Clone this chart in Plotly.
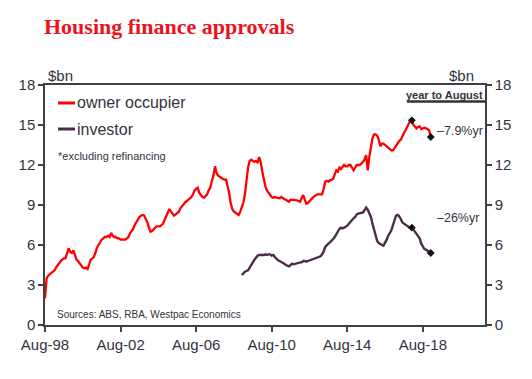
import pandas as pd
import plotly.graph_objects as go

# Monthly series (first observation plotted at the Aug-98 tick)
owner_occupier = [
    2.0, 3.5, 3.7, 3.8, 3.9, 4.0, 4.1, 4.3, 4.5, 4.6, 4.8, 4.9,
    5.0, 5.0, 5.4, 5.75, 5.5, 5.4, 5.6, 5.3, 4.9, 4.8, 4.6, 4.4,
    4.3, 4.25, 4.3, 4.2, 4.5, 4.9, 5.0, 5.1, 5.4, 5.8, 6.0, 6.25,
    6.4, 6.5, 6.6, 6.6, 6.7, 6.6, 6.9, 6.7, 6.6, 6.6, 6.5, 6.5,
    6.4, 6.4, 6.4, 6.4, 6.5, 6.6, 6.9, 7.05, 7.2, 7.5, 7.7, 8.0,
    8.1, 8.2, 8.25, 8.2, 8.0, 7.7, 7.3, 7.0, 7.05, 7.2, 7.3, 7.4,
    7.4, 7.4, 7.5, 7.6, 7.9, 8.2, 8.5, 8.7, 8.5, 8.3, 8.2, 8.3,
    8.4, 8.5, 8.75, 8.9, 9.1, 9.2, 9.3, 9.4, 9.5, 9.6, 9.8, 10.1,
    10.2, 10.3, 9.9, 9.7, 9.6, 9.55, 9.65, 9.8, 10.1, 10.3, 10.8, 11.2,
    11.9, 11.4, 11.2, 11.1, 11.0, 10.95, 10.9, 10.9, 10.4, 9.9, 9.1, 8.7,
    8.5, 8.4, 8.35, 8.25, 8.5, 8.9, 9.2, 9.8, 10.8, 11.8, 12.3, 12.4,
    12.3, 12.25, 12.3, 12.2, 12.6, 12.2, 11.5, 10.9, 10.4, 10.1, 9.9, 9.75,
    9.6, 9.55, 9.6, 9.55, 9.5, 9.5, 9.6, 9.5, 9.45, 9.4, 9.35, 9.25,
    9.4, 9.4, 9.4, 9.4, 9.35, 9.3, 9.25, 9.5, 9.75, 9.4, 9.1, 9.15,
    9.3, 9.45, 9.55, 9.65, 9.75, 9.8, 9.8, 9.8, 9.8, 10.2, 10.75, 10.8,
    10.75, 10.85, 10.9, 10.95, 11.3, 11.6, 11.5, 11.8, 11.7, 11.9, 12.0, 11.9,
    11.9, 12.0, 12.0, 11.8, 11.6, 11.8, 12.0, 12.0, 12.0, 12.1, 12.3, 12.4,
    12.75, 11.6, 12.6, 13.3, 14.0, 14.3, 14.3, 14.2, 13.9, 13.4, 13.6, 13.6,
    13.5, 13.4, 13.3, 13.15, 13.1, 13.1, 13.3, 13.5, 13.7, 13.8, 13.9, 14.2,
    14.4, 14.6, 14.9, 15.1, 15.3, 15.35, 15.0, 14.9, 14.75, 14.85, 14.9, 14.7,
    14.75, 14.8, 14.75, 14.7, 14.6, 14.1,
]

investor = [
    3.75, 3.9, 4.0, 4.05, 4.1, 4.3, 4.55,
    4.7, 4.9, 5.05, 5.2, 5.25, 5.25, 5.2, 5.25, 5.3, 5.25, 5.3, 5.3,
    5.2, 5.25, 5.1, 4.95, 4.85, 4.8, 4.75, 4.65, 4.6, 4.5, 4.45, 4.4,
    4.5, 4.6, 4.55, 4.6, 4.6, 4.65, 4.7, 4.7, 4.8, 4.8, 4.75, 4.8,
    4.85, 4.85, 4.9, 4.95, 5.0, 5.1, 5.1, 5.15, 5.3, 5.5, 5.85, 6.0,
    6.1, 6.2, 6.3, 6.45, 6.6, 6.85, 7.0, 7.2, 7.3, 7.25, 7.3, 7.35,
    7.45, 7.6, 7.75, 7.85, 8.0, 8.1, 8.3, 8.35, 8.4, 8.4, 8.45, 8.6,
    8.8, 8.65, 8.4, 8.1, 7.6, 7.1, 6.6, 6.3, 6.15, 6.05, 6.0, 5.95,
    6.15, 6.4, 6.7, 6.9, 7.1, 7.5, 7.9, 8.2, 8.25, 8.15, 7.95, 7.7,
    7.6, 7.5, 7.4, 7.35, 7.3, 7.3, 7.15, 7.0, 6.85, 6.6, 6.5, 6.1,
    5.85, 5.7, 5.65, 5.55, 5.5, 5.4,
]

dates = pd.date_range("1998-08-01", periods=len(owner_occupier), freq="MS")
inv_dates = dates[len(dates) - len(investor):]

tick_dates = ["1998-08-01", "2002-08-01", "2006-08-01", "2010-08-01", "2014-08-01", "2018-08-01"]
tick_labels = ["Aug-98", "Aug-02", "Aug-06", "Aug-10", "Aug-14", "Aug-18"]
y_ticks = [0, 3, 6, 9, 12, 15, 18]

RED = "#FF0000"
PURPLE = "#4B2D48"
AXIS = "#404040"
TXT = "#333340"

fig = go.Figure()
fig.add_trace(go.Scatter(x=dates, y=owner_occupier, mode="lines",
                         line=dict(color=RED, width=2.3), name="owner occupier"))
fig.add_trace(go.Scatter(x=inv_dates, y=investor, mode="lines",
                         line=dict(color=PURPLE, width=2.4), name="investor"))
# year-to-August markers (year earlier and latest)
fig.add_trace(go.Scatter(x=[dates[-13], dates[-1]], y=[owner_occupier[-13], owner_occupier[-1]],
                         mode="markers", marker=dict(symbol="diamond", size=6, color="#111111")))
fig.add_trace(go.Scatter(x=[inv_dates[-13], inv_dates[-1]], y=[investor[-13], investor[-1]],
                         mode="markers", marker=dict(symbol="diamond", size=6, color="#111111")))
# invisible trace for the right axis
fig.add_trace(go.Scatter(x=[dates[0]], y=[0], yaxis="y2", mode="markers",
                         marker=dict(opacity=0), hoverinfo="skip"))

font_family = "Liberation Sans, Arial, sans-serif"

fig.update_layout(
    width=532, height=379,
    margin=dict(l=45, r=47, t=85, b=54),
    paper_bgcolor="white", plot_bgcolor="white",
    showlegend=False,
    font=dict(family=font_family, color=TXT, size=15),
    xaxis=dict(
        type="date",
        range=["1998-08-01", "2021-11-15"],
        tickvals=tick_dates, ticktext=tick_labels,
        showgrid=False, zeroline=False,
        showline=True, linecolor=AXIS, linewidth=1.5, mirror=True,
        ticks="outside", ticklen=5, tickcolor=AXIS, tickwidth=1.5,
        tickfont=dict(size=15, color=TXT),
    ),
    yaxis=dict(
        range=[0, 18], tickvals=y_ticks,
        showgrid=False, zeroline=False,
        showline=True, linecolor=AXIS, linewidth=1.5,
        ticks="outside", ticklen=5, tickcolor=AXIS, tickwidth=1.5,
        tickfont=dict(size=15, color=TXT),
    ),
    yaxis2=dict(
        range=[0, 18], tickvals=y_ticks, overlaying="y", side="right",
        showgrid=False, zeroline=False,
        showline=True, linecolor=AXIS, linewidth=1.5,
        ticks="outside", ticklen=5, tickcolor=AXIS, tickwidth=1.5,
        tickfont=dict(size=15, color=TXT),
    ),
)

def px_ann(text, x, y, size, color=TXT, xanchor="left", bold=False, family=font_family):
    # x, y given in figure pixels from top-left
    fx = (x - 45) / 440
    fy = (325 - y) / 240
    return dict(text=f"<b>{text}</b>" if bold else text, x=fx, y=fy, xref="paper", yref="paper",
                showarrow=False, xanchor=xanchor, yanchor="middle",
                font=dict(family=family, size=size, color=color))

anns = [
    px_ann("<b>Housing finance approvals</b>", 42, 27, 22, color="#E8141C",
           family="Liberation Serif, Times New Roman, serif"),
    px_ann("$bn", 46, 76, 15),
    px_ann("$bn", 476, 76, 15, xanchor="right"),
    px_ann("owner occupier", 75, 103, 16),
    px_ann("investor", 75, 129, 16),
    px_ann("*excluding refinancing", 56, 156, 11),
    px_ann("Sources: ABS, RBA, Westpac Economics", 55, 314, 10),
    px_ann("year to August", 485, 95, 11, xanchor="right", bold=True),
    px_ann("\u20137.9%yr", 435, 131, 12.5),
    px_ann("\u201326%yr", 435, 218, 12.5),
]
fig.update_layout(annotations=anns)

def px_line(x0, y0, x1, y1, color, width):
    return dict(type="line", xref="paper", yref="paper",
                x0=(x0 - 45) / 440, x1=(x1 - 45) / 440,
                y0=(325 - y0) / 240, y1=(325 - y1) / 240,
                line=dict(color=color, width=width))

fig.update_layout(shapes=[
    px_line(58, 103, 75, 103, RED, 3),
    px_line(58, 129, 75, 129, PURPLE, 3),
    px_line(407, 101.5, 485, 101.5, "#333333", 2.5),
])

fig.write_html("out.html", config={"displayModeBar": False},
               post_script="document.body.style.margin='0';")
